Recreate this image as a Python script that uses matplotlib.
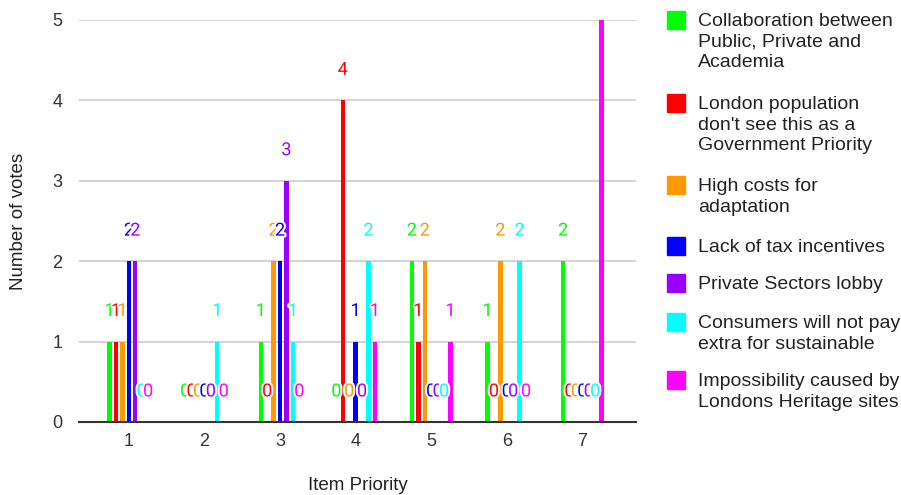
import numpy as np
import matplotlib.pyplot as plt
from matplotlib.patches import Rectangle
import matplotlib.patheffects as pe

priorities = [1, 2, 3, 4, 5, 6, 7]
series_names = [
    "Collaboration between\nPublic, Private and\nAcademia",
    "London population\ndon't see this as a\nGovernment Priority",
    "High costs for\nadaptation",
    "Lack of tax incentives",
    "Private Sectors lobby",
    "Consumers will not pay\nextra for sustainable",
    "Impossibility caused by\nLondons Heritage sites",
]
colors = ["#00ff00", "#ff0000", "#ff9900", "#0000ff", "#9900ff", "#00ffff", "#ff00ff"]

collaboration = [1, 0, 1, 0, 2, 1, 2]
not_priority = [1, 0, 0, 4, 1, 0, 0]
high_costs = [1, 0, 2, 0, 2, 2, 0]
tax_incentives = [2, 0, 2, 1, 0, 0, 0]
sector_lobby = [2, 0, 3, 0, 0, 0, 0]
consumers = [0, 1, 1, 2, 0, 2, 0]
heritage = [0, 0, 0, 1, 1, 0, 5]
votes = [collaboration, not_priority, high_costs, tax_incentives,
         sector_lobby, consumers, heritage]

plt.rcParams['font.family'] = ['Liberation Sans', 'DejaVu Sans']

fig = plt.figure(figsize=(9.01, 4.95), dpi=100)
ax = fig.add_axes([79 / 901, 1 - 422 / 495, 557 / 901, 402 / 495])
ymax = 5

x = np.array(priorities, dtype=float)
step = 0.085
width = 0.058
for i, (vals, col) in enumerate(zip(votes, colors)):
    xs = x + (i - 3) * step
    ax.bar(xs, vals, width=width, color=col, zorder=2)
    for xi, v in zip(xs, vals):
        if v >= ymax:
            continue  # label would sit above the plot area
        ax.annotate(str(v), (xi, v), xytext=(0, 22), textcoords='offset points',
                    ha='center', va='center', color=col, fontsize=13,
                    family=['Roboto', 'DejaVu Sans'], zorder=3,
                    path_effects=[pe.withStroke(linewidth=3, foreground='white')])

ax.set_xlim(0.34, 7.71)
ax.set_ylim(0, ymax)
ax.set_xticks(priorities)
ax.set_yticks(range(ymax + 1))
ax.tick_params(length=0, labelsize=13, colors='#333333', pad=12)
ax.tick_params(axis='x', pad=8)
ax.grid(axis='y', color='#cccccc', linewidth=1.2, zorder=0)
for s in ['top', 'right', 'left']:
    ax.spines[s].set_visible(False)
ax.spines['bottom'].set_color('#333333')
ax.spines['bottom'].set_linewidth(1.5)
ax.spines['bottom'].set_zorder(4)
ax.set_xlabel("Item Priority", fontsize=13.5, color='#222222', labelpad=19)
ax.set_ylabel("Number of votes", fontsize=13.5, color='#222222', labelpad=18)

# legend drawn by hand so the swatch sits beside the first line
entry_y = [20, 103, 185, 246, 283, 322, 380]
W, H = 901, 495
for name, col, y in zip(series_names, colors, entry_y):
    fig.patches.append(Rectangle((667 / W, 1 - (y + 9) / H), 18 / W, 18 / H,
                                 transform=fig.transFigure, color=col))
    fig.text(698 / W, 1 - (y - 7) / H, name, ha='left', va='top',
             fontsize=14, color='#222222', linespacing=1.27)

fig.savefig("out.png", dpi=100)
